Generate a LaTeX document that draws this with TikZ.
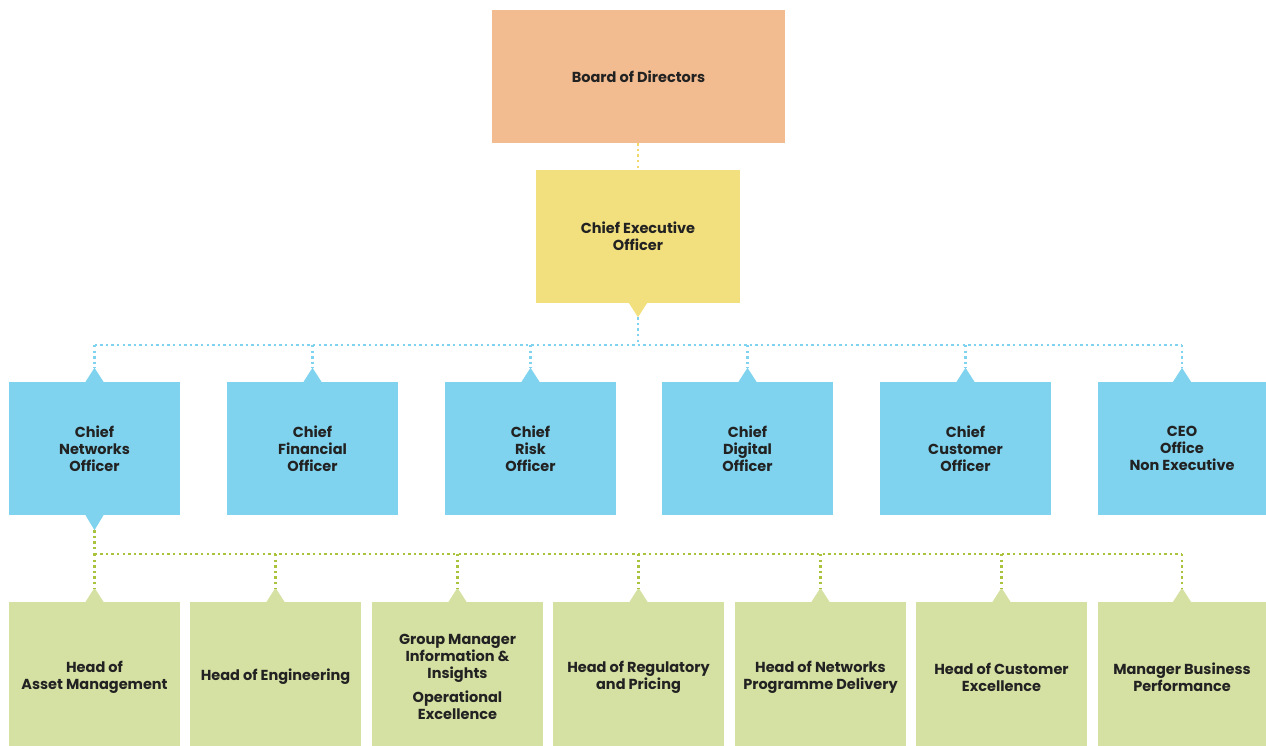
\documentclass[tikz,border=0pt]{standalone}
\usepackage{fontspec}
\setmainfont{Poppins}
\definecolor{boardc}{HTML}{F2BB90}
\definecolor{ceoc}{HTML}{F2DF7E}
\definecolor{bluec}{HTML}{7FD3EE}
\definecolor{greenc}{HTML}{D5E0A3}
\definecolor{ydot}{HTML}{F2D868}
\definecolor{bdot}{HTML}{7FD3EE}
\definecolor{gdot}{HTML}{A9C43C}
\definecolor{txt}{HTML}{222222}
\tikzset{
  orgbox/.style={rectangle, inner sep=0pt, align=center, text=txt,
    font=\bfseries\fontsize{14.5}{17}\selectfont},
  topbox/.style={orgbox, fill=boardc, minimum width=293pt, minimum height=133pt},
  ceobox/.style={orgbox, fill=ceoc, minimum width=204pt, minimum height=133pt},
  bluebox/.style={orgbox, fill=bluec, minimum width=171pt, minimum height=133pt},
  greenbox/.style={orgbox, fill=greenc, minimum width=171pt, minimum height=150pt},
  dotline/.style={line width=2.6pt, dash pattern=on 2.4pt off 3.2pt},
  ylink/.style={dotline, draw=ydot},
  blink/.style={dotline, draw=bdot},
  glink/.style={dotline, draw=gdot},
}
\begin{document}
\begin{tikzpicture}[x=1pt,y=-1pt]
\useasboundingbox (0,0) rectangle (1266,746);

% top levels
\node[topbox] (board) at (638.5,76.5) {Board of Directors};
\node[ceobox] (ceo) at (638,236.5) {Chief Executive\\Officer};
\fill[ceoc] ([xshift=-9pt]ceo.south) -- ([yshift=-14pt]ceo.south) -- ([xshift=9pt]ceo.south) -- cycle;
\coordinate (ceotip) at ([yshift=-14pt]ceo.south);
\draw[ylink] (board.south -| ceo.north) -- (ceo.north);

% executive row
\foreach \n/\x/\w/\t in {
  c1/94.5/171/{Chief\\Networks\\Officer},
  c2/312.5/171/{Chief\\Financial\\Officer},
  c3/530.5/171/{Chief\\Risk\\Officer},
  c4/747.5/171/{Chief\\Digital\\Officer},
  c5/965.5/171/{Chief\\Customer\\Officer},
  c6/1182/168/{CEO\\Office\\Non Executive}}{
  \node[bluebox, minimum width=\w pt] (\n) at (\x,448.5) {\t};
  \fill[bluec] ([xshift=-9pt]\n.north) -- ([yshift=14pt]\n.north) -- ([xshift=9pt]\n.north) -- cycle;
  \coordinate (\n tip) at ([yshift=14pt]\n.north);
}
\coordinate (bbus) at (0,345);
\draw[blink] (ceotip) -- (ceotip |- bbus);
\draw[blink] (c1tip |- bbus) -- (c6tip |- bbus);
\foreach \n in {c1,c2,c3,c4,c5,c6}
  \draw[blink] (\n tip |- bbus) -- (\n tip);

% networks reports (boxes run past the lower page edge)
\fill[bluec] ([xshift=-9pt]c1.south) -- ([yshift=-15pt]c1.south) -- ([xshift=9pt]c1.south) -- cycle;
\coordinate (c1low) at ([yshift=-15pt]c1.south);
\foreach \n/\x/\w/\t in {
  h1/94.5/171/{Head of\\Asset Management},
  h2/275.5/171/{Head of Engineering},
  h3/457.5/171/{Group Manager\\Information \&\\Insights\\[7pt]Operational\\Excellence},
  h4/638.5/171/{Head of Regulatory\\and Pricing},
  h5/820.5/171/{Head of Networks\\Programme Delivery},
  h6/1001.5/171/{Head of Customer\\Excellence},
  h7/1182/168/{Manager Business\\Performance}}{
  \node[greenbox, minimum width=\w pt] (\n) at (\x,677) {\t};
  \fill[greenc] ([xshift=-9pt]\n.north) -- ([yshift=14pt]\n.north) -- ([xshift=9pt]\n.north) -- cycle;
  \coordinate (\n tip) at ([yshift=14pt]\n.north);
}
\coordinate (gbus) at (0,554);
\draw[glink] (c1low) -- (c1low |- gbus);
\draw[glink] (h1tip |- gbus) -- (h7tip |- gbus);
\foreach \n in {h1,h2,h3,h4,h5,h6,h7}
  \draw[glink] (\n tip |- gbus) -- (\n tip);
\end{tikzpicture}
\end{document}
